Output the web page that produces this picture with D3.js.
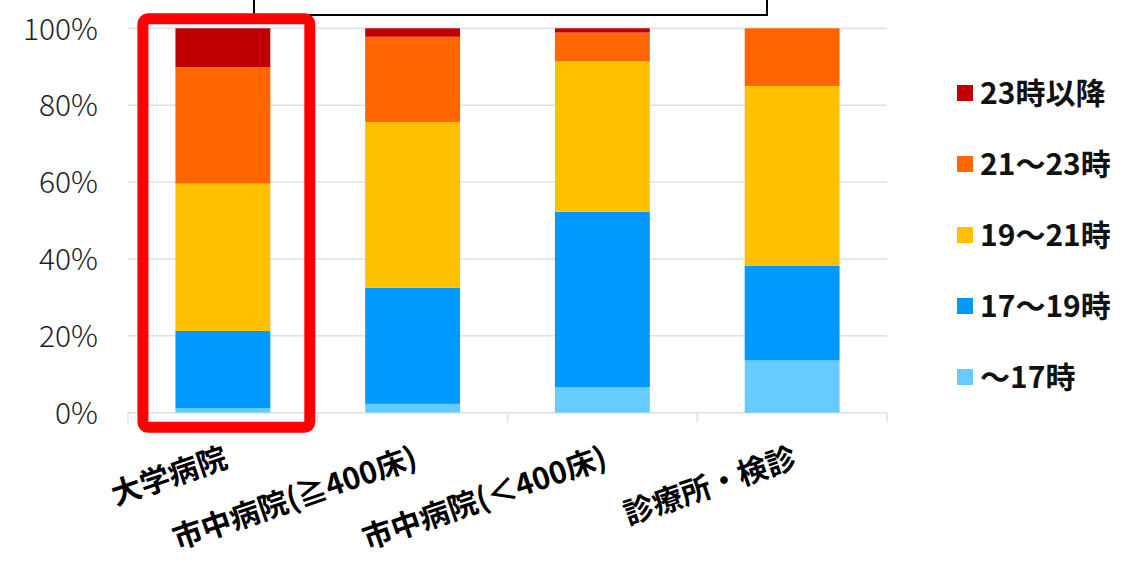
<!DOCTYPE html>
<html>
<head>
<meta charset="utf-8">
<script src="https://cdn.jsdelivr.net/npm/d3@7/dist/d3.min.js"></script>
<style>
  html, body { margin: 0; padding: 0; background: #fff; }
  svg { display: block; }
</style>
</head>
<body>
<svg id="chart" width="1127" height="562"></svg>
<script>
// ---- data ----
const categories = ["大学病院", "市中病院(≧400床)", "市中病院(＜400床)", "診療所・検診"];
const seriesNames = ["～17時", "17～19時", "19～21時", "21～23時", "23時以降"];
const until17 = [1.2, 2.3, 6.6, 13.6];
const from17to19 = [20.1, 30.2, 45.7, 24.6];
const from19to21 = [38.3, 43.1, 39.1, 46.8];
const from21to23 = [30.3, 22.2, 7.5, 15.0];
const after23 = [10.1, 2.2, 1.1, 0];
const yTicks = [0, 20, 40, 60, 80, 100];
const colors = ["#66CCFF", "#0099FF", "#FFC000", "#FF6600", "#C00000"];

const seriesValues = [until17, from17to19, from19to21, from21to23, after23];
const table = categories.map((c, i) => {
  const row = { category: c };
  seriesNames.forEach((s, j) => { row[s] = seriesValues[j][i]; });
  return row;
});

const svg = d3.select("#chart");
const plotLeft = 128, plotRight = 887, plotTop = 28.3, plotBottom = 412.7;

const x = d3.scaleBand().domain(categories).range([plotLeft, plotRight])
  .paddingInner(0.5).paddingOuter(0.25);
const y = d3.scaleLinear().domain([0, 100]).range([plotBottom, plotTop]);
const color = d3.scaleOrdinal().domain(seriesNames).range(colors);

const tickFont = "'Noto Sans CJK JP', 'Noto Sans', sans-serif";

// gridlines
svg.append("g").selectAll("line").data(yTicks).join("line")
  .attr("x1", plotLeft).attr("x2", plotRight)
  .attr("y1", d => y(d)).attr("y2", d => y(d))
  .attr("stroke", "#DCE2E2").attr("stroke-width", 1.5);

// bottom axis with ticks at band boundaries
const bounds = categories.map(c => x(c) - x.step() * x.paddingInner() / 2);
bounds.push(plotRight);
bounds[0] = plotLeft;
svg.append("g").selectAll("line").data(bounds).join("line")
  .attr("x1", d => d).attr("x2", d => d)
  .attr("y1", plotBottom).attr("y2", plotBottom + 10)
  .attr("stroke", "#DCE2E2").attr("stroke-width", 1.5);

// y axis labels
const yAxis = d3.axisLeft(y).tickValues(yTicks).tickFormat(d => d + "%").tickSize(0).tickPadding(0);
const yg = svg.append("g").attr("transform", `translate(98,0)`).call(yAxis);
yg.select(".domain").remove();
yg.selectAll("text")
  .attr("font-family", tickFont).attr("font-weight", 300)
  .attr("font-size", 30).attr("fill", "#222").attr("dy", "0.36em");

// stacked bars
const stack = d3.stack().keys(seriesNames);
const stacked = stack(table);
svg.append("g").selectAll("g").data(stacked).join("g")
  .attr("fill", d => color(d.key))
  .selectAll("rect").data(d => d).join("rect")
  .attr("x", d => x(d.data.category))
  .attr("width", x.bandwidth())
  .attr("y", d => y(d[1]))
  .attr("height", d => Math.max(0, y(d[0]) - y(d[1])));

// x labels (rotated)
const fx = 30;
svg.append("g").selectAll("text").data(categories).join("text")
  .attr("transform", d => `translate(${x(d) + x.bandwidth() / 2 - 2},442) rotate(-19)`)
  .attr("y", fx * 0.86)
  .attr("text-anchor", "end")
  .attr("font-family", tickFont).attr("font-weight", 700)
  .attr("font-size", fx).attr("fill", "#000")
  .text(d => d);

// legend
const legendItems = seriesNames.slice().reverse();
const lg = svg.append("g").selectAll("g").data(legendItems).join("g")
  .attr("transform", (d, i) => `translate(957,${93 + i * 71})`);
lg.append("rect").attr("x", 0).attr("y", -8).attr("width", 16).attr("height", 16)
  .attr("fill", d => color(d));
lg.append("text").attr("x", 23).attr("y", 0).attr("dy", "0.36em")
  .attr("font-family", tickFont).attr("font-weight", 700)
  .attr("font-size", 30).attr("fill", "#111")
  .text(d => d);

// partially visible text box at top
svg.append("rect").attr("x", 254).attr("y", -20).attr("width", 513).attr("height", 35)
  .attr("fill", "#fff").attr("stroke", "#000").attr("stroke-width", 2);

// red highlight box around first category
const b0 = x(categories[0]);
svg.append("rect")
  .attr("x", b0 - 32.5).attr("y", 18.8)
  .attr("width", x.bandwidth() + 72).attr("height", 408.5)
  .attr("rx", 5).attr("ry", 5)
  .attr("fill", "none").attr("stroke", "#FF0000").attr("stroke-width", 11);
</script>
</body>
</html>
